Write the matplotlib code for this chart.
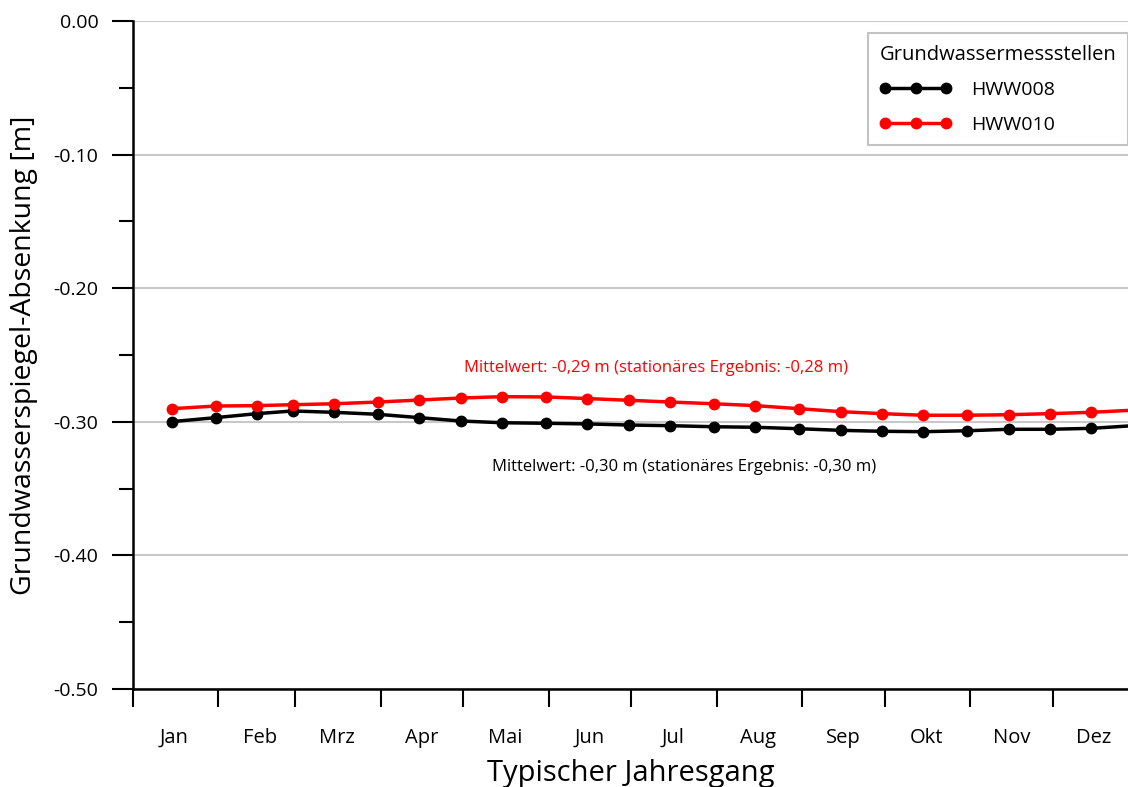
import matplotlib
matplotlib.use("Agg")
import matplotlib.pyplot as plt
import matplotlib.dates as mdates
import matplotlib.ticker as mticker
import pandas as pd

# semi-monthly sampling dates (typical year)
dates = [
    "2001-01-15", "2001-01-31", "2001-02-15", "2001-02-28",
    "2001-03-15", "2001-03-31", "2001-04-15", "2001-04-30",
    "2001-05-15", "2001-05-31", "2001-06-15", "2001-06-30",
    "2001-07-15", "2001-07-31", "2001-08-15", "2001-08-31",
    "2001-09-15", "2001-09-30", "2001-10-15", "2001-10-31",
    "2001-11-15", "2001-11-30", "2001-12-15", "2001-12-31",
]
hww008 = [
    -0.2999, -0.2969, -0.2939, -0.2919, -0.2929, -0.2944, -0.2969, -0.2994,
    -0.3007, -0.3011, -0.3016, -0.3024, -0.3029, -0.3037, -0.3041, -0.3052,
    -0.3064, -0.3071, -0.3074, -0.3067, -0.3056, -0.3056, -0.3049, -0.3028,
]
hww010 = [
    -0.2902, -0.2882, -0.2879, -0.2872, -0.2865, -0.2852, -0.2837, -0.2822,
    -0.2812, -0.2814, -0.2826, -0.2839, -0.2852, -0.2865, -0.2879, -0.2902,
    -0.2924, -0.2939, -0.2951, -0.2951, -0.2947, -0.2939, -0.2929, -0.2912,
]
month_labels = ["Jan", "Feb", "Mrz", "Apr", "Mai", "Jun",
                "Jul", "Aug", "Sep", "Okt", "Nov", "Dez"]
note_010 = "Mittelwert: -0,29 m (stationäres Ergebnis: -0,28 m)"
note_008 = "Mittelwert: -0,30 m (stationäres Ergebnis: -0,30 m)"

x = pd.to_datetime(dates)

fig = plt.figure(figsize=(11.28, 7.87), dpi=100)
ax = fig.add_axes([133 / 1128, 98 / 787, 995 / 1128, 668 / 787])

ax.plot(x, hww008, color="black", lw=2.5, marker="o", ms=7.5, label="HWW008",
        zorder=3)
ax.plot(x, hww010, color="#ff0000", lw=2.5, marker="o", ms=7.5, label="HWW010",
        zorder=3)

ax.set_ylim(-0.5, 0.0)
ax.set_xlim(pd.Timestamp("2001-01-01"), pd.Timestamp("2001-12-28 08:00"))

ax.yaxis.set_major_locator(mticker.MultipleLocator(0.1))
ax.yaxis.set_minor_locator(mticker.MultipleLocator(0.05))
ax.yaxis.set_major_formatter(mticker.FormatStrFormatter("%.2f"))
ax.grid(axis="y", which="major", color="#c8c8c8", lw=1.5, zorder=0)

# month boundaries as major ticks, labels centered at mid-month
ax.xaxis.set_major_locator(mdates.MonthLocator())
ax.xaxis.set_major_formatter(mticker.NullFormatter())
mids = pd.date_range("2001-01-01", periods=12, freq="MS") + pd.Timedelta(days=15)
ax.set_xticks(mids, minor=True)
ax.set_xticklabels(month_labels, minor=True)

font = ["Open Sans", "DejaVu Sans"]
ax.tick_params(axis="y", which="major", direction="out", length=15, width=1.5,
               labelsize=14, pad=10)
ax.tick_params(axis="y", which="minor", direction="out", length=10, width=1.5)
ax.tick_params(axis="x", which="major", direction="out", length=13, width=1.5)
ax.tick_params(axis="x", which="minor", length=0, labelsize=14.5, pad=28)
for lab in ax.get_xticklabels(minor=True) + ax.get_yticklabels():
    lab.set_family(font)

for s in ("top", "right"):
    ax.spines[s].set_visible(False)
for s in ("left", "bottom"):
    ax.spines[s].set_linewidth(1.8)

ax.set_ylabel("Grundwasserspiegel-Absenkung [m]", fontsize=20.5, family=font,
              labelpad=11)
ax.set_xlabel("Typischer Jahresgang", fontsize=21, family=font, labelpad=8)

ax.text(pd.Timestamp("2001-07-10"), -0.2595, note_010, color="#ff0000",
        fontsize=12, family=font, ha="center", va="center")
ax.text(pd.Timestamp("2001-07-20"), -0.3335, note_008, color="black",
        fontsize=12, family=font, ha="center", va="center")

leg = ax.legend(title="Grundwassermessstellen", loc="upper right",
                bbox_to_anchor=(1.0, 0.982), numpoints=3,
                frameon=True, fancybox=False, edgecolor="#b4b4b4",
                borderpad=0.6, borderaxespad=0, handlelength=3.7,
                handletextpad=1.0, labelspacing=0.85, alignment="left",
                prop={"family": font, "size": 14})
leg.get_title().set_family(font)
leg.get_title().set_fontsize(14.5)
leg.get_frame().set_linewidth(1.5)

fig.savefig("out.png", dpi=100)
